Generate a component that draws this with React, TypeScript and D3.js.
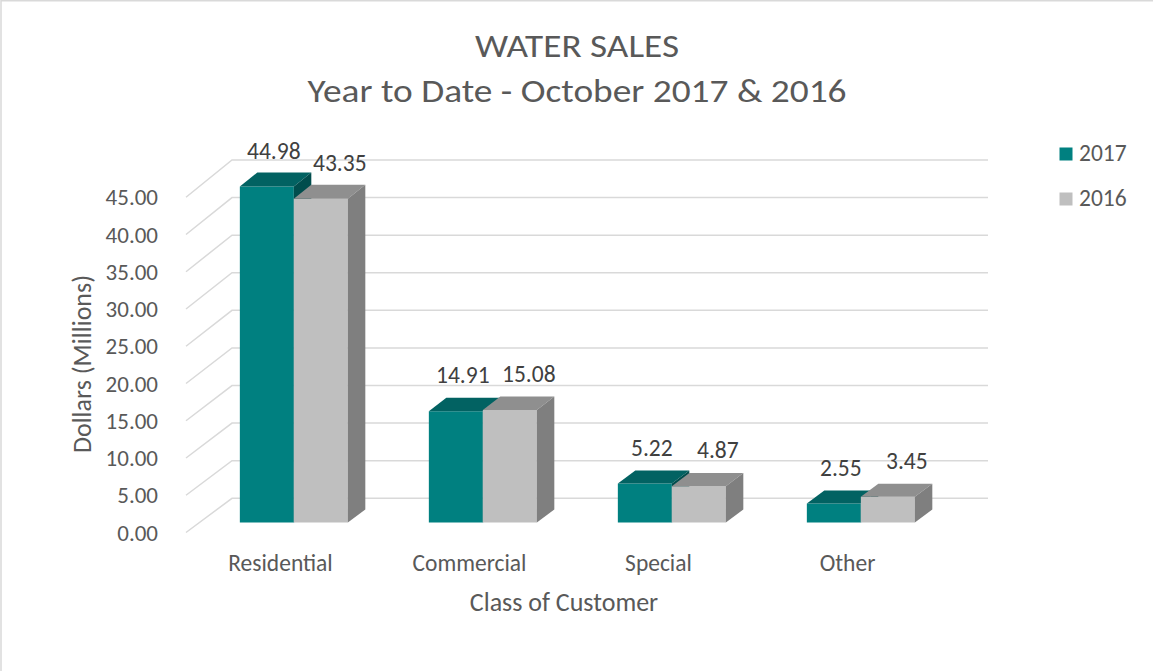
import React from "react";
import * as d3 from "d3";

const categories = ["Residential", "Commercial", "Special", "Other"];
const seriesNames = ["2017", "2016"];
const values2017 = [44.98, 14.91, 5.22, 2.55];
const values2016 = [43.35, 15.08, 4.87, 3.45];
const yTicks = [0, 5, 10, 15, 20, 25, 30, 35, 40, 45];

const W = 1153;
const H = 671;
const FONT = "Calibri, Carlito, Lato, 'Open Sans', sans-serif";
const TEXT = "#595959";

// plot geometry (front plane + depth)
const PX0 = 186;
const PW = 756;
const DX = 46;
const Z0 = 0.29;
const ZD = 0.38;

const palette = {
  "2017": { front: "#008080", top: "#026262", side: "#014d4d" },
  "2016": { front: "#bfbfbf", top: "#8f8f8f", side: "#7f7f7f" },
};

export default function App() {
  const yFront = d3.scaleLinear().domain([0, 45]).range([532.5, 197.25]);
  const yBack = d3.scaleLinear().domain([0, 45]).range([498.3, 160.0]);
  const xCat = d3
    .scaleBand<string>()
    .domain(categories)
    .range([0, PW])
    .paddingInner(0.4286)
    .paddingOuter(0.2143);
  const xSer = d3.scaleBand<string>().domain(seriesNames).range([0, xCat.bandwidth()]);

  const P = (x: number, v: number, z: number): [number, number] => [
    PX0 + x + DX * z,
    yFront(v) * (1 - z) + yBack(v) * z,
  ];
  const poly = (pts: [number, number][]) => pts.map((p) => p.join(",")).join(" ");

  const seriesData = [values2017, values2016];

  const bars: React.ReactNode[] = [];
  const labels: React.ReactNode[] = [];
  const labelDx = [7, 19];
  categories.forEach((c, ci) => {
    seriesNames.forEach((s, si) => {
      const v = seriesData[si][ci];
      const x0 = (xCat(c) as number) + (xSer(s) as number);
      const x1 = x0 + xSer.bandwidth();
      const z1 = Z0 + ZD;
      const col = (palette as any)[s];
      bars.push(
        <g key={c + s}>
          <polygon
            points={poly([P(x0, 0, Z0), P(x1, 0, Z0), P(x1, v, Z0), P(x0, v, Z0)])}
            fill={col.front}
          />
          <polygon
            points={poly([P(x0, v, Z0), P(x1, v, Z0), P(x1, v, z1), P(x0, v, z1)])}
            fill={col.top}
          />
          <polygon
            points={poly([P(x1, 0, Z0), P(x1, v, Z0), P(x1, v, z1), P(x1, 0, z1)])}
            fill={col.side}
          />
        </g>
      );
      const [tx, ty] = P((x0 + x1) / 2, v, Z0);
      labels.push(
        <text
          key={"l" + c + s}
          x={tx + labelDx[si]}
          y={ty - 28}
          textAnchor="middle"
          fontSize={23.5}
          fill="#404040"
        >
          {v.toFixed(2)}
        </text>
      );
    });
  });

  return (
    <div style={{ position: "absolute", left: 0, top: 0 }}>
      <svg width={W} height={H} style={{ display: "block", fontFamily: FONT }}>
        <rect x={0} y={0} width={W} height={H} fill="#ffffff" />
        <rect x={1} y={0.75} width={W + 20} height={H + 20} fill="none" stroke="#d9d9d9" strokeWidth={1.5} />

        {/* gridlines */}
        <g stroke="#d9d9d9" strokeWidth={1.5} fill="none">
          {yTicks.map((t) => {
            const a = P(0, t, 0);
            const b = P(0, t, 1);
            const c = P(PW, t, 1);
            return <polyline key={t} points={poly([a, b, c])} />;
          })}
        </g>

        {/* tick labels */}
        <g fontSize={23} fill={TEXT} textAnchor="end">
          {yTicks.map((t) => (
            <text key={t} x={158} y={yFront(t)} dy="0.35em">
              {t.toFixed(2)}
            </text>
          ))}
        </g>

        {bars}
        {labels}

        {/* category labels */}
        <g fontSize={23.5} fill={TEXT} textAnchor="middle">
          {categories.map((c) => (
            <text key={c} x={PX0 + (xCat(c) as number) + xCat.bandwidth() / 2} y={571}>
              {c}
            </text>
          ))}
        </g>

        <text x={PX0 + PW / 2} y={611} textAnchor="middle" fontSize={26} fill={TEXT}>
          Class of Customer
        </text>
        <text
          transform="translate(91,364) rotate(-90)"
          textAnchor="middle"
          fontSize={26}
          fill={TEXT}
        >
          Dollars (Millions)
        </text>

        {/* title */}
        <text
          x={577}
          y={57}
          textAnchor="middle"
          fontSize={33}
          fontWeight={300}
          fill={TEXT}
          textLength={204}
          lengthAdjust="spacingAndGlyphs"
        >
          WATER SALES
        </text>
        <text
          x={577}
          y={102}
          textAnchor="middle"
          fontSize={33}
          fontWeight={300}
          fill={TEXT}
          textLength={539}
          lengthAdjust="spacingAndGlyphs"
        >
          Year to Date - October 2017 &amp; 2016
        </text>

        {/* legend */}
        {seriesNames.map((s, i) => (
          <g key={s}>
            <rect x={1059.5} y={147.5 + i * 45} width={13} height={13} fill={(palette as any)[s].front} />
            <text x={1079} y={160.5 + i * 45} fontSize={23.5} fill={TEXT}>
              {s}
            </text>
          </g>
        ))}
      </svg>
    </div>
  );
}
